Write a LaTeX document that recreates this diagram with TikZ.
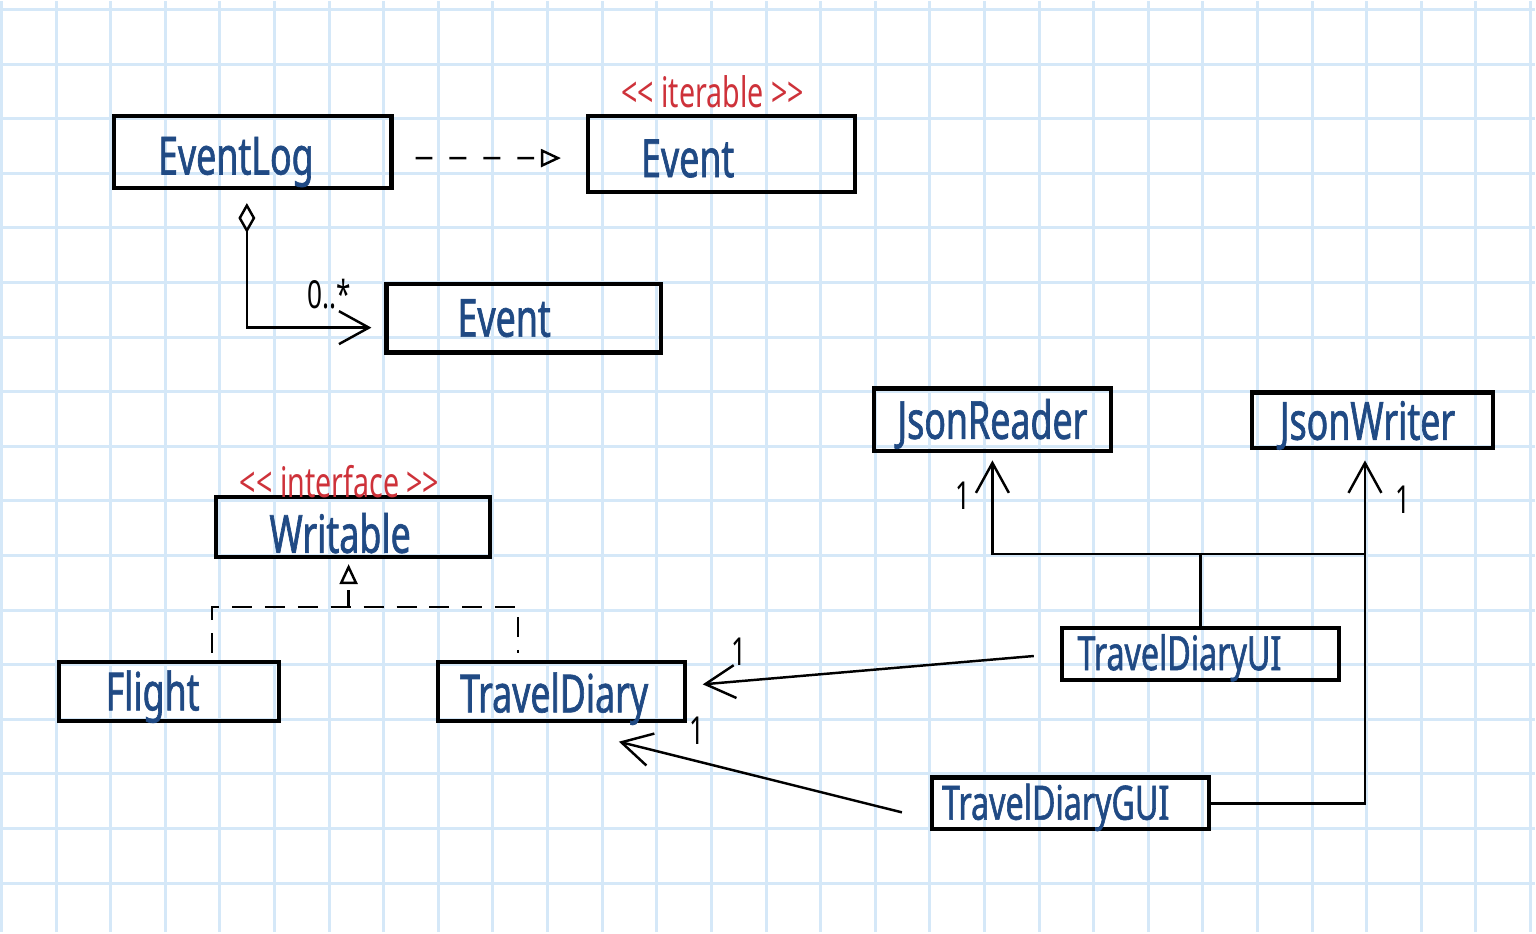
\documentclass[tikz,border=0pt]{standalone}
\usepackage{fontspec}
\usepackage{xcolor}
\usepackage{tikz}
\usetikzlibrary{arrows.meta,positioning,calc}

\newfontfamily\handfont[FakeStretch=0.68]{Noto Sans}
\newfontfamily\namefont[FakeStretch=0.68,FakeBold=1.2]{Noto Sans}
\definecolor{gridblue}{RGB}{213,232,248}
\definecolor{inkblue}{RGB}{32,74,132}
\definecolor{inkred}{RGB}{206,50,58}

\begin{document}
\begin{tikzpicture}[
		font=\handfont,
		gridline/.style={gridblue, line width=0.85pt},
		classblock/.style={draw, line width=1.2pt, inner sep=0pt},
		classname/.style={text=inkblue, font=\namefont\fontsize{15}{15}\selectfont},
		smallname/.style={text=inkblue, font=\namefont\fontsize{13.5}{13.5}\selectfont},
		stereo/.style={text=inkred, font=\handfont\fontsize{12}{12}\selectfont, inner sep=0.5mm},
		multlabel/.style={font=\handfont\fontsize{11}{11}\selectfont, inner sep=0.5mm},
		plainline/.style={line width=0.7pt},
		assocarrow/.style={line width=0.7pt, -{Straight Barb[length=3mm, width=3.3mm]}},
		aggarrow/.style={line width=0.7pt, {Diamond[open, length=3mm, width=1.7mm]}-{Straight Barb[length=3mm, width=3.3mm]}},
		implarrow/.style={line width=0.7pt, dash pattern=on 1.7mm off 1.7mm, -{Triangle[open, length=2mm, width=1.8mm]}},
		impldash/.style={line width=0.7pt, dash pattern=on 2mm off 1.3mm}
		]

		% squared paper
		\fill[white] (0,0) rectangle (15.36,9.33);
		\foreach \i in {0,...,28} \draw[gridline] (-0.01+0.5475*\i,0) -- ++(0,9.33);
		\foreach \j in {0,...,16} \draw[gridline] (0,0.49+0.5475*\j) -- ++(15.36,0);
		\useasboundingbox (0,0) rectangle (15.36,9.33);

		% classes
		\node[classblock, minimum width=2.78cm, minimum height=0.72cm,
			label={[classname, xshift=-1.7mm, yshift=-1mm]center:EventLog}] (eventlog) at (2.51,7.82) {};
		\node[classblock, minimum width=2.68cm, minimum height=0.76cm,
			label={[classname, xshift=-3.4mm, yshift=-0.45mm]center:Event},
			label={[stereo, xshift=-0.9mm]north:<< iterable >>}] (eventif) at (7.21,7.80) {};
		\node[classblock, minimum width=2.75cm, minimum height=0.69cm,
			label={[classname, xshift=-1.95mm]center:Event}] (event) at (5.225,6.155) {};
		\node[classblock, minimum width=2.75cm, minimum height=0.60cm,
			label={[classname, xshift=-1.3mm, yshift=-0.6mm]center:Writable},
			label={[stereo, xshift=-1.35mm, yshift=-0.9mm]north:<< interface >>}] (writable) at (3.515,4.06) {};
		\node[classblock, minimum width=2.20cm, minimum height=0.59cm,
			label={[classname, xshift=-1.65mm, yshift=-0.55mm]center:Flight}] (flight) at (1.67,2.415) {};
		\node[classblock, minimum width=2.47cm, minimum height=0.59cm,
			label={[classname, xshift=-0.75mm, yshift=-0.75mm]center:TravelDiary}] (traveldiary) at (5.605,2.415) {};
		\node[classblock, minimum width=2.37cm, minimum height=0.63cm,
			label={[classname, yshift=-0.4mm]center:JsonReader}] (jsonreader) at (9.925,5.135) {};
		\node[classblock, minimum width=2.41cm, minimum height=0.56cm,
			label={[classname, xshift=-0.5mm, yshift=-0.5mm]center:JsonWriter}] (jsonwriter) at (13.735,5.13) {};
		\node[classblock, minimum width=2.78cm, minimum height=0.52cm,
			label={[smallname, xshift=-2.1mm, yshift=-0.4mm]center:TravelDiaryUI}] (traveldiaryui) at (12.01,2.79) {};
		\node[classblock, minimum width=2.78cm, minimum height=0.52cm,
			label={[smallname, xshift=-1.5mm, yshift=-0.4mm]center:TravelDiaryGUI}] (traveldiarygui) at (10.71,1.29) {};

		\coordinate (implbus) at (3.47,3.26);
		\coordinate[above=7.2mm of traveldiaryui.north] (jsonbus);
		\coordinate[left=0.75mm of jsonwriter.south] (writerin);

		% relations
		\draw[implarrow, shorten <=2.2mm, shorten >=2.5mm] ([yshift=-0.6mm]eventlog.east) -- ([yshift=-0.4mm]eventif.west);
		\draw[aggarrow, shorten <=1.3mm, shorten >=1.3mm] ([xshift=-0.6mm]eventlog.south) |- node[multlabel, pos=0.8, above=1.2mm] {0..*} ([yshift=-0.95mm]event.west);

		\draw[implarrow, shorten >=0.5mm] (implbus) -- (implbus |- writable.south);
		\draw[impldash, shorten <=0.7mm, shorten >=0.7mm] ([xshift=4.3mm]flight.north) |- (implbus) -| ([xshift=-4.35mm]traveldiary.north);

		\draw[assocarrow, shorten <=2.6mm, shorten >=1.6mm] (traveldiaryui.west) -- node[multlabel, pos=0.86, above=1mm] {1} ([yshift=0.55mm]traveldiary.east);
		\draw[assocarrow, shorten <=2.9mm] ([yshift=-1.6mm]traveldiarygui.west) -- node[multlabel, pos=0.75, above=1mm] {1} ([shift={(0.575,-0.19)}]traveldiary.south);

		\draw[plainline] (traveldiaryui.north) -- (jsonbus);
		\draw[assocarrow, shorten >=0.7mm] (jsonbus) -| node[multlabel, pos=0.79, left=1.6mm] {1} (jsonreader.south);
		\draw[plainline] (jsonbus) -- (jsonbus -| writerin);
		\draw[assocarrow, shorten >=1mm] (traveldiarygui.east) -| node[multlabel, pos=0.93, right=2.4mm] {1} (writerin);
	\end{tikzpicture}
\end{document}
